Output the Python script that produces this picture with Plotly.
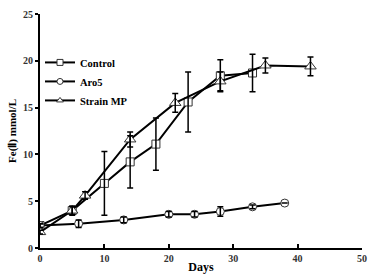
import plotly.graph_objects as go

ctrl_x = [0, 5, 10, 14, 18, 23, 28, 33]
ctrl_y = [2.4, 4.0, 6.9, 9.2, 11.1, 15.6, 18.4, 18.7]
ctrl_e = [0.2, 0.4, 3.4, 2.8, 2.8, 3.2, 1.7, 2.0]

aro_x = [0, 6, 13, 20, 24, 28, 33, 38]
aro_y = [2.4, 2.6, 3.0, 3.6, 3.6, 3.9, 4.4, 4.8]
aro_e = [0.2, 0.4, 0.3, 0.3, 0.3, 0.5, 0.2, 0.0]

mp_x = [0, 5, 7, 14, 21, 28, 35, 42]
mp_y = [1.7, 4.0, 5.6, 11.6, 15.5, 17.8, 19.5, 19.4]
mp_e = [0.2, 0.5, 0.4, 0.8, 1.0, 1.0, 0.8, 1.0]

font_fam = "Liberation Serif, Times New Roman, serif"

fig = go.Figure()

series = [
    ("Control", ctrl_x, ctrl_y, ctrl_e, "square", 8),
    ("Aro5", aro_x, aro_y, aro_e, "circle", 8),
    ("Strain MP", mp_x, mp_y, mp_e, "triangle-up", 10),
]

for name, x, y, e, sym, size in series:
    fig.add_trace(go.Scatter(
        x=x, y=y, name=name, mode="lines+markers", showlegend=False,
        line=dict(color="black", width=2),
        marker=dict(symbol=sym, size=size, color="white",
                    line=dict(color="#333333", width=1)),
    ))

# error bars drawn on top of markers
for name, x, y, e, sym, size in series:
    fig.add_trace(go.Scatter(
        x=x, y=y, mode="markers", showlegend=False, hoverinfo="skip",
        marker=dict(size=1, color="rgba(0,0,0,0)"),
        error_y=dict(type="data", array=e, visible=True, color="black",
                     thickness=1.5, width=3),
    ))

# legend entries with small markers
for name, x, y, e, sym, size in series:
    fig.add_trace(go.Scatter(
        x=[None], y=[None], name=name, mode="lines+markers",
        line=dict(color="black", width=2),
        marker=dict(symbol=sym, size=6, color="white",
                    line=dict(color="#333333", width=1)),
    ))

fig.update_layout(
    width=369, height=275,
    margin=dict(l=40, r=7, t=14, b=27),
    paper_bgcolor="white", plot_bgcolor="white",
    font=dict(family=font_fam, color="black", size=10, weight="bold"),
    showlegend=True,
    legend=dict(x=0.0, y=0.855, xanchor="left", yanchor="top",
                bgcolor="rgba(0,0,0,0)", font=dict(size=10.5, weight="bold"),
                tracegroupgap=0, itemwidth=30),
)
fig.update_xaxes(
    range=[0, 50], tickvals=[0, 10, 20, 30, 40, 50], automargin=False,
    showline=True, linecolor="black", linewidth=2,
    ticks="inside", ticklen=4, tickwidth=2, tickcolor="black",
    showgrid=False, zeroline=False,
    tickfont=dict(size=10, weight="bold", color="#333333"),
    title=dict(text="Days", font=dict(size=12, weight="bold"), standoff=0),
)
fig.update_yaxes(
    range=[0, 25], tickvals=[0, 5, 10, 15, 20, 25], automargin=False,
    showline=True, linecolor="black", linewidth=2,
    ticks="outside", ticklen=3, tickwidth=2, tickcolor="black",
    showgrid=False, zeroline=False,
    tickfont=dict(size=10, weight="bold", color="#333333"),
    title=dict(text="Fe(Ⅱ) mmol/L", font=dict(size=11, weight="bold"), standoff=4),
)

fig.write_html("out.html")
